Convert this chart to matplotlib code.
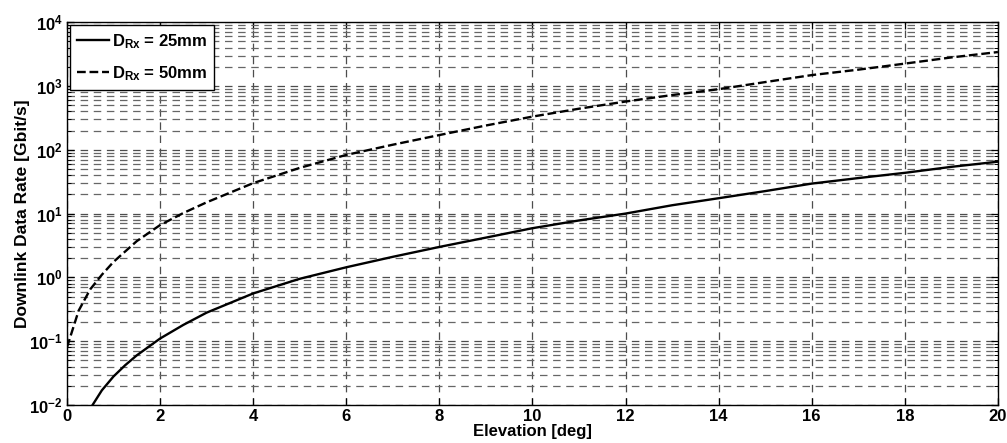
import matplotlib
matplotlib.use("Agg")
import matplotlib.pyplot as plt
from matplotlib.ticker import LogLocator, NullFormatter, FixedLocator

plt.rcParams['font.family'] = ['Liberation Sans', 'DejaVu Sans']
plt.rcParams['font.weight'] = 'bold'
plt.rcParams['mathtext.fontset'] = 'custom'
plt.rcParams['mathtext.rm'] = 'Liberation Sans:bold'
plt.rcParams['mathtext.it'] = 'Liberation Sans:bold'
plt.rcParams['mathtext.bf'] = 'Liberation Sans:bold'
plt.rcParams['mathtext.sf'] = 'Liberation Sans:bold'

# Data
elev_25 = [0.55, 0.75, 1, 1.25, 1.5, 2, 2.5, 3, 4, 5, 6, 7, 8, 9, 10, 11, 12, 13, 14, 15,
           16, 17, 18, 19, 20]
rate_25 = [0.01, 0.017, 0.028, 0.042, 0.06, 0.11, 0.18, 0.28, 0.56, 0.95, 1.44, 2.1, 3.0,
           4.2, 5.9, 7.8, 10.0, 13.5, 17.4, 22.5, 29.5, 36, 43.5, 54, 65]
elev_50 = [0, 0.25, 0.5, 0.75, 1, 1.5, 2, 2.5, 3, 4, 5, 6, 7, 8, 9, 10, 11, 12, 13, 14, 15,
           16, 17, 18, 19, 20]
rate_50 = [0.08, 0.3, 0.65, 1.1, 1.75, 3.7, 6.6, 10.2, 15, 30, 52, 83, 120, 170, 240, 331,
           440, 570, 720, 890, 1150, 1480, 1800, 2240, 2800, 3400]
x_ticks = [0, 2, 4, 6, 8, 10, 12, 14, 16, 18, 20]
label_25 = r'$D_{Rx}$ = 25mm'
label_50 = r'$D_{Rx}$ = 50mm'

fig = plt.figure(figsize=(10.07, 4.43), dpi=100)
ax = fig.add_axes([0.0665, 0.0858, 0.9245, 0.8642])

ax.semilogy(elev_25, rate_25, color='black', lw=1.7, ls='-', label=label_25)
ax.semilogy(elev_50, rate_50, color='black', lw=1.7, ls='--', label=label_50)

ax.set_xlim(0, 20)
ax.set_ylim(1e-2, 1e4)
ax.xaxis.set_major_locator(FixedLocator(x_ticks))
ax.yaxis.set_major_locator(LogLocator(base=10, numticks=20))
ax.yaxis.set_minor_locator(LogLocator(base=10, subs=range(2, 10), numticks=100))
ax.yaxis.set_minor_formatter(NullFormatter())

grid_dash = (0, (6, 4.5))
ax.grid(True, which='major', axis='both', color='0.3', lw=0.9, ls=grid_dash)
ax.grid(True, which='minor', axis='y', color='0.4', lw=0.9, ls=grid_dash)
ax.set_axisbelow(True)

ax.tick_params(which='both', direction='in', top=True, right=True, labelsize=12)
ax.tick_params(which='major', length=5, width=0.9, pad=3)
ax.tick_params(which='minor', length=3, width=0.7)
for lab in ax.get_xticklabels() + ax.get_yticklabels():
    lab.set_fontweight('bold')
for s in ax.spines.values():
    s.set_linewidth(1.0)

ax.set_xlabel('Elevation [deg]', fontsize=12, fontweight='bold', va='center')
ax.xaxis.set_label_coords(0.5, -0.068)
ax.set_ylabel('Downlink Data Rate [Gbit/s]', fontsize=12.5, fontweight='bold', va='center')
ax.yaxis.set_label_coords(-0.048, 0.5)

leg = ax.legend(loc='upper left', fancybox=False, framealpha=1, edgecolor='black',
                prop={'size': 12, 'weight': 'bold'}, handlelength=1.9, borderaxespad=0.2,
                handletextpad=0.2, labelspacing=0.8, borderpad=0.4)
leg.get_frame().set_linewidth(1.0)

fig.savefig('out.png', dpi=100)
